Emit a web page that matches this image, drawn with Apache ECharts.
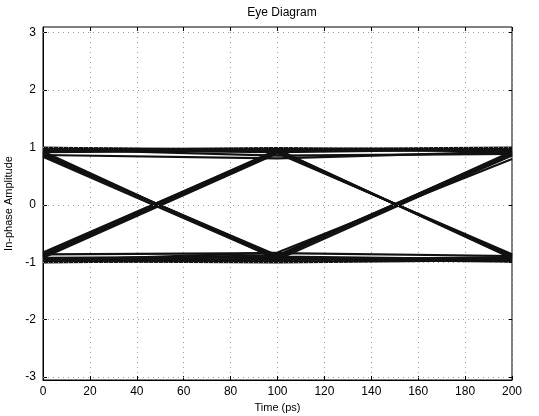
<!DOCTYPE html>
<html>
<head>
<meta charset="utf-8">
<title>Eye Diagram</title>
<script src="https://cdn.jsdelivr.net/npm/echarts@6/dist/echarts.min.js"></script>
<style>
  html, body { margin: 0; padding: 0; background: #fff; }
  #main { width: 539px; height: 416px; }
</style>
</head>
<body>
<div id="main"></div>
<script>
// sample instants of each trace (ps)
var timePs = [0, 100, 200];

// amplitude of each trace at t = 0, 100, 200 ps
var stayHigh = [
  [0.99, 0.97, 1.00],
  [0.95, 0.99, 0.96],
  [1.00, 0.94, 0.98],
  [0.96, 0.98, 0.93],
  [0.92, 0.95, 0.99],
  [0.97, 0.86, 0.89],
  [0.87, 0.81, 0.93]
];
var stayLow = [
  [-0.97, -0.94, -0.99],
  [-0.93, -0.99, -0.95],
  [-1.00, -0.96, -0.91],
  [-0.95, -0.91, -0.98],
  [-0.98, -1.00, -0.96],
  [-0.86, -0.84, -0.89]
];
var fallRise = [
  [0.90, -0.92, 0.93],
  [0.86, -0.88, 0.90],
  [0.93, -0.95, 0.87]
];
var riseFall = [
  [-0.88, 0.93, -0.90],
  [-0.92, 0.90, -0.86],
  [-0.85, 0.96, -0.93]
];
var fallStay = [
  [0.88, -0.90, -0.95],
  [0.84, -0.94, -0.92]
];
var riseStay = [
  [-0.90, 0.92, 0.97],
  [-0.83, 0.95, 0.95]
];
var stayFall = [
  [0.96, 0.92, -0.88],
  [0.93, 0.96, -0.92]
];
var stayRise = [
  [-0.95, -0.88, 0.91],
  [-0.97, -0.83, 0.80],
  [-0.92, -0.90, 0.86]
];

var yTicks = [-3, -2, -1, 0, 1, 2, 3];

var allTraces = [].concat(stayHigh, stayLow, fallRise, riseFall,
  fallStay, riseStay, stayFall, stayRise);

var gridStyle = { color: '#9a9a9a', type: [1, 4], width: 1 };

var series = allTraces.map(function (tr) {
  return {
    type: 'line',
    data: timePs.map(function (t, i) { return [t, tr[i]]; }),
    symbol: 'none',
    silent: true,
    z: 3,
    lineStyle: { color: '#111', width: 2.2 }
  };
});
// horizontal grid lines at the integer ticks
series.unshift({
  type: 'line', data: [], silent: true, z: 1,
  markLine: {
    silent: true, symbol: 'none', animation: false,
    label: { show: false },
    lineStyle: gridStyle,
    data: yTicks.map(function (v) { return { yAxis: v }; })
  }
});

var font = 'Liberation Sans, Arial, sans-serif';
var tick = { inside: true, length: 4, lineStyle: { color: '#000' } };

var myChart = echarts.init(document.getElementById('main'));
myChart.setOption({
  animation: false,
  backgroundColor: '#fff',
  title: {
    text: 'Eye Diagram',
    left: 277, top: 2, textAlign: 'center',
    textStyle: { fontFamily: font, fontSize: 12, fontWeight: 'normal', color: '#000' }
  },
  grid: {
    left: 43, right: 27, top: 27, bottom: 36,
    outerBoundsMode: 'none', containLabel: false,
    show: true, borderColor: '#000', borderWidth: 1
  },
  xAxis: [{
    type: 'value', min: 0, max: 200, interval: 20,
    name: 'Time (ps)', nameLocation: 'middle', nameGap: 21,
    nameTextStyle: { fontFamily: font, fontSize: 11, color: '#000' },
    axisLine: { show: true, onZero: false, lineStyle: { color: '#000' } },
    axisTick: tick,
    axisLabel: { fontFamily: font, fontSize: 12, color: '#000', margin: 6 },
    splitLine: { show: true, lineStyle: gridStyle }
  }, {
    type: 'value', min: 0, max: 200, interval: 20, position: 'top',
    axisLine: { show: false, onZero: false },
    axisTick: tick,
    axisLabel: { show: false }, splitLine: { show: false }
  }],
  yAxis: [{
    type: 'value', min: -3.05, max: 3.1,
    name: 'In-phase Amplitude', nameLocation: 'middle', nameGap: 22, nameRotate: 90,
    nameTextStyle: { fontFamily: font, fontSize: 11, color: '#000' },
    axisLine: { show: true, onZero: false, lineStyle: { color: '#000' } },
    axisTick: Object.assign({ customValues: yTicks }, tick),
    axisLabel: { fontFamily: font, fontSize: 12, color: '#000', margin: 7, customValues: yTicks },
    splitLine: { show: false }
  }, {
    type: 'value', min: -3.05, max: 3.1, position: 'right',
    axisLine: { show: false, onZero: false },
    axisTick: Object.assign({ customValues: yTicks }, tick),
    axisLabel: { show: false }, splitLine: { show: false }
  }],
  series: series
});
window.addEventListener('resize', function () { myChart.resize(); });
</script>
</body>
</html>
